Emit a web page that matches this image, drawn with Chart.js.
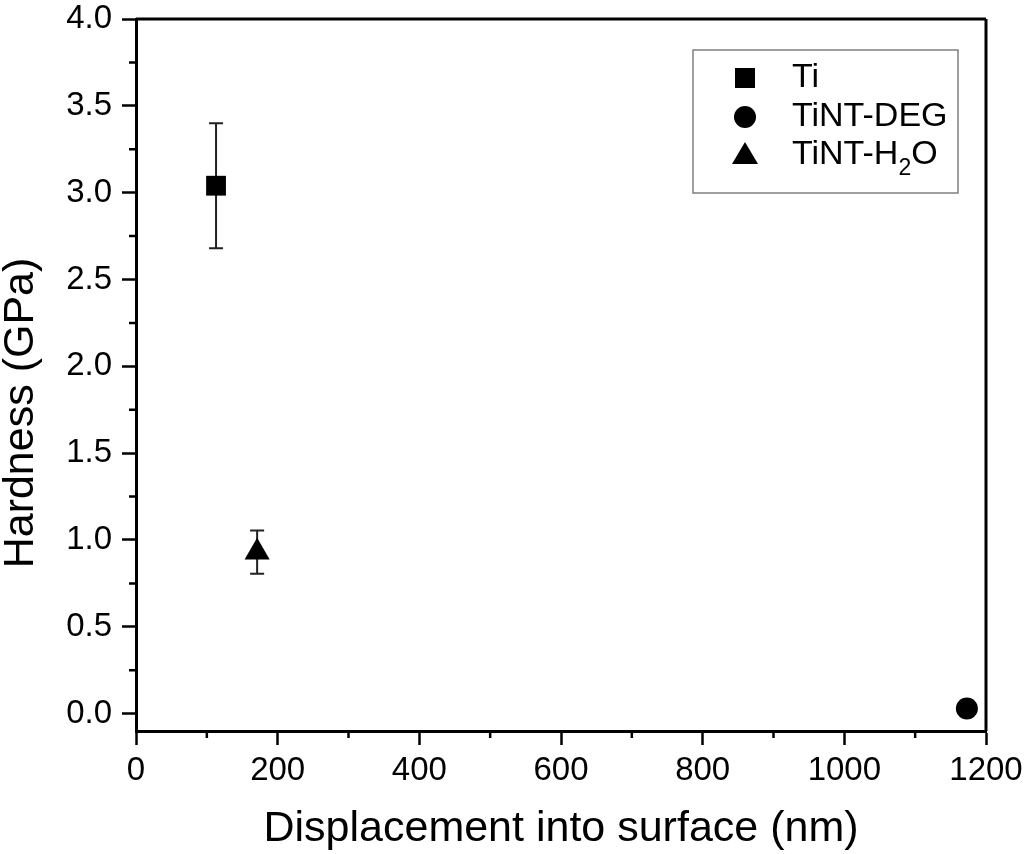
<!DOCTYPE html>
<html>
<head>
<meta charset="utf-8">
<title>Hardness vs displacement</title>
<script src="https://cdn.jsdelivr.net/npm/chart.js@4/dist/chart.umd.min.js"></script>
<style>
  html, body { margin: 0; padding: 0; background: #fff; }
  #wrap { width: 1024px; height: 854px; }
</style>
</head>
<body>
<div id="wrap"><canvas id="hardChart" width="1024" height="854"></canvas></div>
<script>
// ---------------- data ----------------
const seriesNames = ['Ti', 'TiNT-DEG', 'TiNT-H2O'];

const tiX = [113];
const tiY = [3.04];
const tiErr = [0.36];

const degX = [1173];
const degY = [0.03];
const degErr = [0];

const h2oX = [171];
const h2oY = [0.93];
const h2oErr = [0.125];

const xTicks = [0, 200, 400, 600, 800, 1000, 1200];
const xMinorTicks = [100, 300, 500, 700, 900, 1100];
const yTicks = [0.0, 0.5, 1.0, 1.5, 2.0, 2.5, 3.0, 3.5, 4.0];
const yMinorTicks = [0.25, 0.75, 1.25, 1.75, 2.25, 2.75, 3.25, 3.75];

const FONT = '"Liberation Sans", Arial, Helvetica, sans-serif';

function toPoints(xs, ys) {
  return xs.map((x, i) => ({ x: x, y: ys[i] }));
}

// ---------------- plugins ----------------
// error bars, drawn under the markers
const errorBars = {
  id: 'errorBars',
  beforeDatasetsDraw(chart) {
    const ctx = chart.ctx;
    const xs = chart.scales.x, ys = chart.scales.y;
    ctx.save();
    ctx.strokeStyle = '#222';
    ctx.lineWidth = 2;
    chart.data.datasets.forEach(ds => {
      ds.data.forEach((p, i) => {
        const e = ds.errors[i];
        if (!e) return;
        const px = xs.getPixelForValue(p.x);
        const top = ys.getPixelForValue(p.y + e);
        const bot = ys.getPixelForValue(p.y - e);
        ctx.beginPath();
        ctx.moveTo(px, top); ctx.lineTo(px, bot);
        ctx.moveTo(px - 7, top); ctx.lineTo(px + 7, top);
        ctx.moveTo(px - 7, bot); ctx.lineTo(px + 7, bot);
        ctx.stroke();
      });
    });
    ctx.restore();
  }
};

// frame on top/right, minor ticks, y title, legend box
const frameAndLegend = {
  id: 'frameAndLegend',
  afterDraw(chart) {
    const ctx = chart.ctx;
    const a = chart.chartArea;
    const xs = chart.scales.x, ys = chart.scales.y;
    ctx.save();
    ctx.strokeStyle = '#000';
    ctx.lineWidth = 3;
    ctx.beginPath();
    ctx.moveTo(a.left, a.top); ctx.lineTo(a.right, a.top);
    ctx.moveTo(a.right, a.top); ctx.lineTo(a.right, a.bottom);
    ctx.stroke();

    // minor ticks
    ctx.lineWidth = 2.5;
    ctx.beginPath();
    xMinorTicks.forEach(v => {
      const px = xs.getPixelForValue(v);
      ctx.moveTo(px, a.bottom); ctx.lineTo(px, a.bottom + 7);
    });
    yMinorTicks.forEach(v => {
      const py = ys.getPixelForValue(v);
      ctx.moveTo(a.left, py); ctx.lineTo(a.left - 7, py);
    });
    ctx.stroke();

    // y axis title
    ctx.fillStyle = '#000';
    ctx.font = '43px ' + FONT;
    ctx.textAlign = 'center';
    ctx.textBaseline = 'middle';
    ctx.translate(21, 413);
    ctx.rotate(-Math.PI / 2);
    ctx.fillText('Hardness (GPa)', 0, 0);
    ctx.restore();

    // legend
    ctx.save();
    ctx.strokeStyle = '#808080';
    ctx.lineWidth = 1.5;
    ctx.strokeRect(693, 50, 265, 143);
    const rows = [78, 117, 155];
    const mx = 745, tx = 792;
    ctx.fillStyle = '#000';
    // square
    ctx.fillRect(mx - 10, rows[0] - 10, 20, 20);
    // circle
    ctx.beginPath();
    ctx.arc(mx, rows[1], 11, 0, Math.PI * 2);
    ctx.fill();
    // triangle
    ctx.beginPath();
    ctx.moveTo(mx, rows[2] - 13);
    ctx.lineTo(mx + 13, rows[2] + 9);
    ctx.lineTo(mx - 13, rows[2] + 9);
    ctx.closePath();
    ctx.fill();

    ctx.font = '34px ' + FONT;
    ctx.textAlign = 'left';
    ctx.textBaseline = 'middle';
    ctx.fillText(seriesNames[0], tx, rows[0]);
    ctx.fillText(seriesNames[1], tx, rows[1]);
    // TiNT-H2O with subscript
    const pre = 'TiNT-H';
    ctx.fillText(pre, tx, rows[2]);
    let w = ctx.measureText(pre).width;
    ctx.font = '23px ' + FONT;
    ctx.fillText('2', tx + w, rows[2] + 14);
    w += ctx.measureText('2').width;
    ctx.font = '34px ' + FONT;
    ctx.fillText('O', tx + w, rows[2]);
    ctx.restore();
  }
};

// ---------------- chart ----------------
const config = {
  type: 'scatter',
  data: {
    datasets: [
      {
        label: seriesNames[0],
        data: toPoints(tiX, tiY),
        errors: tiErr,
        pointStyle: 'rect',
        pointRadius: 14,
        backgroundColor: '#000',
        borderColor: '#000',
        borderWidth: 0
      },
      {
        label: seriesNames[1],
        data: toPoints(degX, degY),
        errors: degErr,
        pointStyle: 'circle',
        pointRadius: 11,
        backgroundColor: '#000',
        borderColor: '#000',
        borderWidth: 0
      },
      {
        label: seriesNames[2],
        data: toPoints(h2oX, h2oY),
        errors: h2oErr,
        pointStyle: 'triangle',
        pointRadius: 14.5,
        backgroundColor: '#000',
        borderColor: '#000',
        borderWidth: 0
      }
    ]
  },
  options: {
    responsive: false,
    animation: false,
    clip: false,
    layout: { padding: { top: 19, right: 38, left: 0, bottom: 0 } },
    plugins: {
      legend: { display: false },
      tooltip: { enabled: false }
    },
    scales: {
      x: {
        type: 'linear',
        min: 0,
        max: 1200,
        afterBuildTicks: scale => { scale.ticks = xTicks.map(v => ({ value: v })); },
        afterFit: scale => {
          scale.height = 123;
          scale.paddingLeft = 0;
          scale.paddingRight = 0;
        },
        grid: {
          drawOnChartArea: false,
          drawTicks: true,
          tickLength: 14,
          tickWidth: 2.5,
          tickColor: '#000'
        },
        border: { display: true, color: '#000', width: 3 },
        ticks: {
          color: '#000',
          padding: 6,
          font: { family: FONT, size: 33 },
          callback: v => String(v)
        },
        title: {
          display: true,
          text: 'Displacement into surface (nm)',
          color: '#000',
          font: { family: FONT, size: 43, lineHeight: 1 },
          padding: { top: 0, bottom: 3 }
        }
      },
      y: {
        type: 'linear',
        min: -0.1,
        max: 4.0,
        afterBuildTicks: scale => { scale.ticks = yTicks.map(v => ({ value: v })); },
        afterFit: scale => {
          scale.width = 136;
          scale.paddingTop = 0;
          scale.paddingBottom = 0;
        },
        grid: {
          drawOnChartArea: false,
          drawTicks: true,
          tickLength: 14,
          tickWidth: 2.5,
          tickColor: '#000'
        },
        border: { display: true, color: '#000', width: 3 },
        ticks: {
          color: '#000',
          padding: 10,
          font: { family: FONT, size: 33 },
          callback: v => Number(v).toFixed(1)
        }
      }
    }
  },
  plugins: [errorBars, frameAndLegend]
};

const hardChart = new Chart(document.getElementById('hardChart'), config);
</script>
</body>
</html>
